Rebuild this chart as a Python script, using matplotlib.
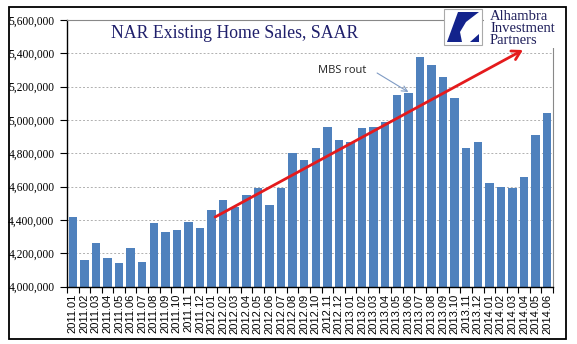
import matplotlib
matplotlib.use("Agg")
import matplotlib.pyplot as plt
from matplotlib.patches import Rectangle, Polygon
from matplotlib.ticker import FuncFormatter, MultipleLocator

months = ["2011.01", "2011.02", "2011.03", "2011.04", "2011.05", "2011.06", "2011.07", "2011.08",
          "2011.09", "2011.10", "2011.11", "2011.12", "2012.01", "2012.02", "2012.03", "2012.04",
          "2012.05", "2012.06", "2012.07", "2012.08", "2012.09", "2012.10", "2012.11", "2012.12",
          "2013.01", "2013.02", "2013.03", "2013.04", "2013.05", "2013.06", "2013.07", "2013.08",
          "2013.09", "2013.10", "2013.11", "2013.12", "2014.01", "2014.02", "2014.03", "2014.04",
          "2014.05", "2014.06"]
sales = [4420000, 4160000, 4260000, 4170000, 4140000, 4230000, 4150000, 4380000, 4330000, 4340000,
         4390000, 4350000, 4460000, 4520000, 4480000, 4550000, 4590000, 4490000, 4590000, 4800000,
         4760000, 4830000, 4960000, 4880000, 4870000, 4950000, 4960000, 4990000, 5150000, 5160000,
         5380000, 5330000, 5260000, 5130000, 4830000, 4870000, 4620000, 4600000, 4590000, 4660000,
         4910000, 5040000]

title = "NAR Existing Home Sales, SAAR"
annot_text = "MBS rout"
logo_lines = ["Alhambra", "Investment", "Partners"]

# trend arrow (data coords)
trend_start = (12.3, 4418000)
trend_end = (38.9, 5420000)
# annotation arrow
mbs_text_pos = (23.3, 5300000)
mbs_arrow_start = (26.3, 5282000)
mbs_arrow_end = (29.0, 5168000)

W, H = 577, 344
fig = plt.figure(figsize=(W / 100, H / 100), dpi=100)
fig.patch.set_facecolor("white")

L, R, T, B = 67, 553, 20, 286.7
ax = fig.add_axes([L / W, 1 - B / H, (R - L) / W, (B - T) / H])

x = list(range(len(sales)))
ax.bar(x, sales, width=0.72, color="#4F81BD", zorder=2)
ax.set_xlim(-0.5, len(sales) - 0.5)
ax.set_ylim(4000000, 5600000)
ax.yaxis.set_major_locator(MultipleLocator(200000))
ax.yaxis.set_major_formatter(FuncFormatter(lambda v, p: f"{int(v):,}"))
ax.grid(axis="y", color="#B0B0B0", linestyle=(0, (2, 2)), linewidth=0.7, zorder=0)
ax.set_axisbelow(True)

ax.set_xticks(x)
ax.set_xticklabels(months, rotation=90, fontsize=8, family=["Liberation Sans", "DejaVu Sans"])
ax.set_xticks([i - 0.5 for i in range(len(sales) + 1)], minor=True)
ax.tick_params(axis="x", which="major", length=0, pad=5)
ax.tick_params(axis="x", which="minor", length=4, width=0.8, direction="out")
ax.tick_params(axis="y", length=5, width=0.8, direction="out", pad=4, labelsize=8.3)
for lab in ax.get_yticklabels():
    lab.set_family(["Liberation Serif", "DejaVu Serif"])

for s in ["left", "bottom"]:
    ax.spines[s].set_color("black")
    ax.spines[s].set_linewidth(1.0)
for s in ["top", "right"]:
    ax.spines[s].set_color("#888888")
    ax.spines[s].set_linewidth(0.8)

# red trend arrow
ax.annotate("", xy=trend_end, xytext=trend_start,
            arrowprops=dict(arrowstyle="->,head_length=0.6,head_width=0.35",
                            color="#E41A1C", lw=2.0, shrinkA=0, shrinkB=0), zorder=5)

# MBS rout annotation
ax.text(mbs_text_pos[0], mbs_text_pos[1], annot_text, ha="center", va="center", fontsize=8,
        family=["Open Sans", "DejaVu Sans"], color="#222222", zorder=6)
ax.annotate("", xy=mbs_arrow_end, xytext=mbs_arrow_start,
            arrowprops=dict(arrowstyle="->,head_length=0.4,head_width=0.2",
                            color="#7F9BC4", lw=0.8, shrinkA=0, shrinkB=0), zorder=6)

# overlay in pixel coordinates
ov = fig.add_axes([0, 0, 1, 1], facecolor="none")
ov.set_xlim(0, W)
ov.set_ylim(H, 0)
ov.axis("off")

# outer frame
ov.add_patch(Rectangle((9, 7), 557, 332, fill=False, edgecolor="black", lw=1.3))

# title
ov.text(234.5, 33, title, ha="center", va="center", fontsize=12.8,
        family=["Liberation Serif", "DejaVu Serif"], color="#1F1F6B")

# logo
ov.add_patch(Rectangle((444, 9), 38, 36, facecolor="white", edgecolor="#AAAAAA", lw=0.8, zorder=3))
ov.add_patch(Polygon([(458, 12), (479, 12), (466, 22), (460, 32), (462, 42), (447, 42)],
                     closed=True, facecolor="#13238C", edgecolor="none", zorder=4))
ov.add_patch(Polygon([(470, 42), (479, 42), (479, 34)],
                     closed=True, facecolor="#13238C", edgecolor="none", zorder=4))
ov.add_patch(Rectangle((484, 8), 80, 40, facecolor="white", edgecolor="none", zorder=3))
for i, line in enumerate(logo_lines):
    ov.text(490, 16 + i * 12.5, line, ha="left", va="center", fontsize=10.5,
            family=["Liberation Serif", "DejaVu Serif"], color="#1F1F5B", zorder=5)

fig.savefig("out.png", dpi=100)
